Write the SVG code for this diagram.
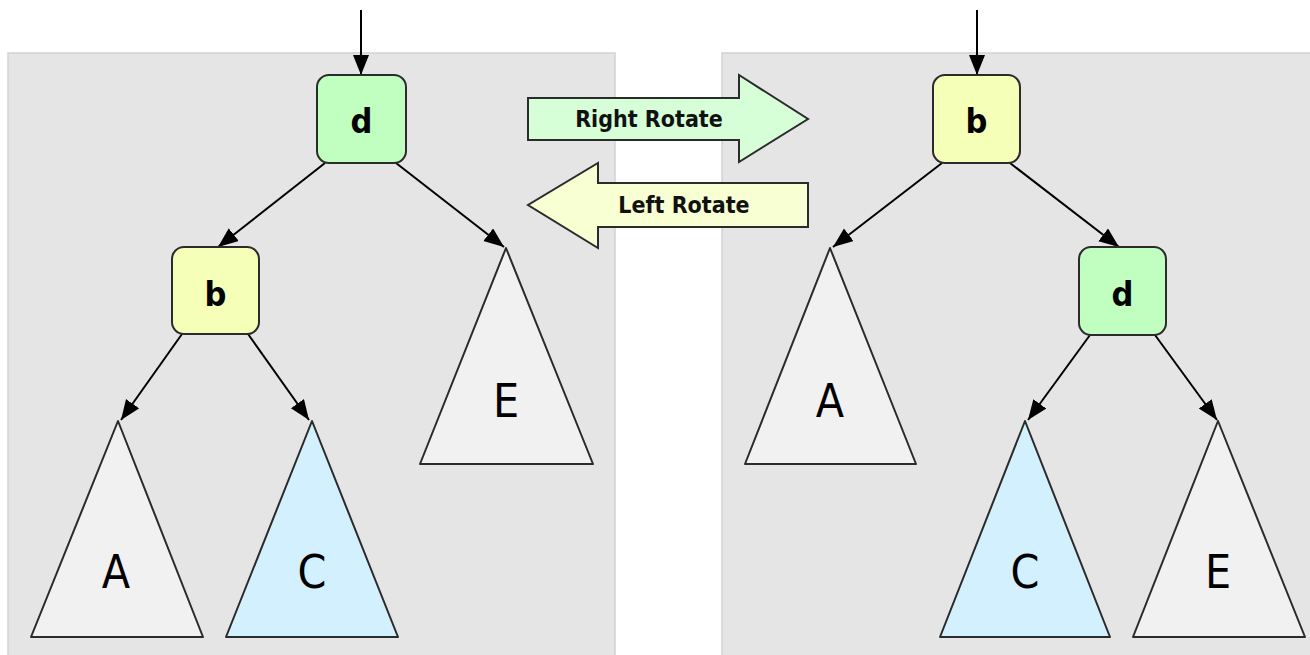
<svg xmlns="http://www.w3.org/2000/svg" width="1310" height="655" viewBox="0 0 1310 655">
  <defs>
    <marker id="head" markerUnits="userSpaceOnUse" markerWidth="22" markerHeight="18" refX="20" refY="8" orient="auto">
      <path d="M0,0 L20,8 L0,16 z" fill="#000"/>
    </marker>
    <style>
      .panel { fill: #e5e5e5; stroke: #d2d2d2; stroke-width: 1.5; }
      .node rect { stroke: #2b2b2b; stroke-width: 2; }
      .green rect { fill: #c0ffc0; }
      .yellow rect { fill: #f6ffb8; }
      .tri polygon { fill: #f1f1f1; stroke: #2b2b2b; stroke-width: 2; stroke-linejoin: round; }
      .tri.blue polygon { fill: #d2f0fd; }
      .edge { stroke: #000; stroke-width: 2; fill: none; marker-end: url(#head); }
      .nlabel { font-family: "DejaVu Sans Condensed", "DejaVu Sans", sans-serif; font-stretch: condensed; font-weight: bold; font-size: 34px; text-anchor: middle; fill: #000; }
      .tlabel { font-family: "DejaVu Sans Condensed", "DejaVu Sans", sans-serif; font-stretch: condensed; font-size: 46px; text-anchor: middle; fill: #000; }
      .op polygon { stroke: #2b2b2b; stroke-width: 2; stroke-linejoin: miter; }
      .op text { font-family: "DejaVu Sans Condensed", "DejaVu Sans", sans-serif; font-stretch: condensed; font-weight: bold; font-size: 23px; text-anchor: middle; fill: #111; }
    </style>
  </defs>

  <rect width="1310" height="655" fill="#ffffff"/>

  <!-- the two tree panels -->
  <rect class="panel" x="8" y="53" width="607" height="620"/>
  <rect class="panel" x="722" y="53" width="600" height="620"/>

  <!-- rotation operations -->
  <g id="op-right-rotate" class="op">
    <polygon points="528,98 739,98 739,75 808,119 739,162 739,140 528,140" fill="#d7ffd7"/>
    <text x="649" y="127">Right Rotate</text>
  </g>
  <g id="op-left-rotate" class="op">
    <polygon points="808,183 598,183 598,163 528,205 598,248 598,227 808,227" fill="#f8ffd2"/>
    <text x="684" y="213">Left Rotate</text>
  </g>

  <!-- connectors -->
  <g id="connectors">
    <line class="edge" x1="361" y1="10" x2="361" y2="75"/>
    <line class="edge" x1="325" y1="163" x2="218" y2="247"/>
    <line class="edge" x1="396" y1="163" x2="504" y2="247"/>
    <line class="edge" x1="182" y1="334" x2="121" y2="420"/>
    <line class="edge" x1="248" y1="334" x2="309" y2="420"/>

    <line class="edge" x1="977" y1="10" x2="977" y2="75"/>
    <line class="edge" x1="942" y1="163" x2="833" y2="247"/>
    <line class="edge" x1="1010" y1="163" x2="1119" y2="247"/>
    <line class="edge" x1="1090" y1="335" x2="1028" y2="420"/>
    <line class="edge" x1="1155" y1="335" x2="1217" y2="420"/>
  </g>

  <!-- left tree -->
  <g id="L-d" class="node green">
    <rect x="317" y="75" width="89" height="88" rx="12"/>
    <text class="nlabel" x="361.5" y="133">d</text>
  </g>
  <g id="L-b" class="node yellow">
    <rect x="172" y="247" width="87" height="87" rx="12"/>
    <text class="nlabel" x="215.5" y="306">b</text>
  </g>
  <g id="L-A" class="tri">
    <polygon points="118,421 203,637 31,637"/>
    <text class="tlabel" x="116" y="588">A</text>
  </g>
  <g id="L-C" class="tri blue">
    <polygon points="312,421 398,637 226,637"/>
    <text class="tlabel" x="312" y="588">C</text>
  </g>
  <g id="L-E" class="tri">
    <polygon points="506,248 593,464 420,464"/>
    <text class="tlabel" x="506" y="417">E</text>
  </g>

  <!-- right tree -->
  <g id="R-b" class="node yellow">
    <rect x="933" y="75" width="87" height="88" rx="12"/>
    <text class="nlabel" x="976.5" y="133">b</text>
  </g>
  <g id="R-d" class="node green">
    <rect x="1079" y="247" width="87" height="88" rx="12"/>
    <text class="nlabel" x="1122.5" y="306">d</text>
  </g>
  <g id="R-A" class="tri">
    <polygon points="830,248 916,464 745,464"/>
    <text class="tlabel" x="830" y="417">A</text>
  </g>
  <g id="R-C" class="tri blue">
    <polygon points="1025,421 1110,637 940,637"/>
    <text class="tlabel" x="1025" y="588">C</text>
  </g>
  <g id="R-E" class="tri">
    <polygon points="1218,421 1305,637 1133,637"/>
    <text class="tlabel" x="1218" y="588">E</text>
  </g>
</svg>
